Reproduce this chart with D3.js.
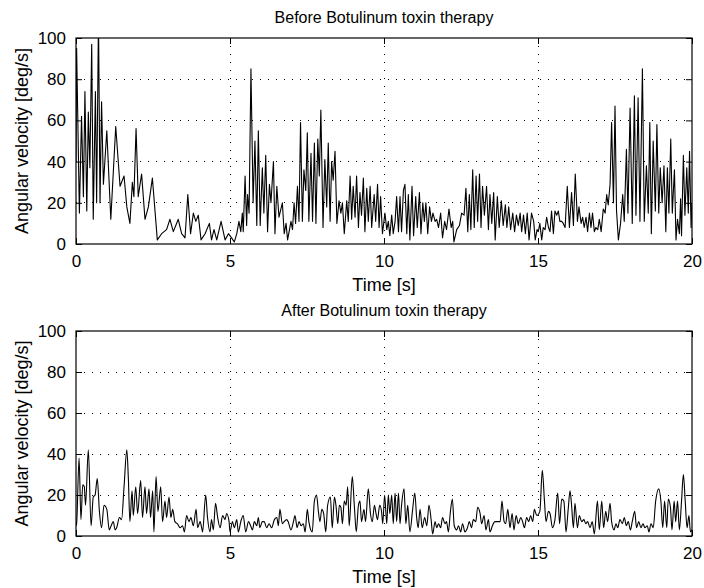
<!DOCTYPE html>
<html><head><meta charset="utf-8">
<script src="https://cdn.jsdelivr.net/npm/d3@7"></script>
<style>body{margin:0;background:#fff}svg{display:block}text{font-family:"Liberation Sans",Arial,sans-serif;fill:#000}</style>
</head><body>
<script>
const titles = ["Before Botulinum toxin therapy", "After Botulinum toxin therapy"];
const xLabel = "Time [s]";
const yLabel = "Angular velocity [deg/s]";
const xTicks = [0, 5, 10, 15, 20];
const yTicks = [0, 20, 40, 60, 80, 100];

const beforeTime = [0,0.02,0.11,0.18,0.24,0.29,0.35,0.40,0.45,0.51,0.56,0.63,0.67,0.73,0.78,0.83,0.89,1.0,1.13,1.29,1.43,1.56,1.65,1.75,1.83,1.88,1.95,2.02,2.13,2.24,2.35,2.48,2.64,2.78,2.94,3.05,3.16,3.32,3.43,3.54,3.63,3.72,3.81,3.89,3.97,4.06,4.19,4.33,4.40,4.48,4.57,4.71,4.84,4.95,
5.05,5.14,5.22,5.29,5.35,5.40,5.43,5.49,5.54,5.57,5.62,5.68,5.75,5.81,5.87,5.92,5.98,6.05,6.10,6.16,6.22,6.28,6.33,6.41,6.46,6.52,6.59,6.70,6.76,6.82,6.87,6.98,7.03,7.08,7.13,7.19,7.24,7.29,7.35,7.40,7.46,7.51,7.56,7.63,7.68,7.74,7.79,7.85,7.90,7.95,8.02,8.08,8.14,8.19,8.25,8.30,8.35,8.41,8.47,8.54,8.60,8.65,8.71,8.79,8.84,8.90,8.95,9.00,9.06,9.11,9.17,9.22,9.27,9.33,9.38,9.44,9.49,9.55,9.60,9.68,9.73,9.79,9.84,9.89,9.95,
10.03,10.09,10.14,10.19,10.25,10.30,10.36,10.41,10.47,10.52,10.57,10.63,10.68,10.74,10.79,10.84,10.91,10.96,11.03,11.08,11.15,11.20,11.26,11.31,11.36,11.42,11.48,11.54,11.59,11.66,11.71,11.77,11.84,11.90,11.97,12.03,12.11,12.18,12.23,12.27,12.36,12.45,12.52,12.60,12.66,12.72,12.77,12.82,12.88,12.93,12.99,13.04,13.10,13.15,13.20,13.26,13.33,13.39,13.44,13.50,13.56,13.61,13.68,13.74,13.81,13.87,13.94,13.99,14.05,14.11,14.18,14.24,14.30,14.36,14.42,14.47,14.53,14.59,14.65,14.71,14.79,14.86,14.91,14.97,
15.01,15.06,15.12,15.17,15.23,15.28,15.34,15.39,15.44,15.50,15.55,15.61,15.66,15.71,15.77,15.82,15.88,15.95,16.02,16.09,16.15,16.21,16.28,16.33,16.40,16.45,16.50,16.56,16.61,16.67,16.72,16.77,16.83,16.88,16.94,16.99,17.05,17.12,17.18,17.23,17.28,17.34,17.39,17.45,17.50,17.55,17.61,17.68,17.75,17.80,17.87,17.92,17.99,18.06,18.13,18.18,18.25,18.31,18.39,18.45,18.52,18.58,18.63,18.68,18.74,18.81,18.86,18.92,18.97,19.03,19.09,19.15,19.20,19.25,19.31,19.36,19.43,19.48,19.53,19.59,19.63,19.66,19.72,19.77,19.83,19.88,19.92,19.97,20];
const beforeVelocity = [40,95,15,62,23,74,16,64,37,97,12,74,20,110,20,69,29,55,12,57,28,33,18,10,30,23,56,23,34,12,18,32,2,5,7,12,6,12,5,3,24,5,15,11,14,2,5,10,2,7,2,11,2,5,
3,1,5,11,6,15,6,33,9,24,15,85,20,50,9,55,9,37,15,43,6,29,20,40,5,28,13,20,5,10,2,11,7,20,10,28,11,59,11,36,26,54,11,44,11,49,10,51,33,65,8,41,18,49,11,40,31,45,10,21,15,20,5,21,11,33,12,28,13,33,8,25,14,32,6,27,11,28,8,24,11,29,8,23,5,
15,7,11,4,14,5,11,23,6,23,6,26,29,5,24,2,28,4,23,8,25,5,20,11,20,5,18,11,15,11,12,8,15,3,11,7,17,8,11,1,7,9,15,14,27,6,24,7,36,8,33,11,34,8,28,14,28,7,24,10,25,2,23,8,21,9,19,8,18,7,15,6,14,9,15,6,14,5,15,2,15,11,2,7,
6,10,2,8,7,13,8,6,16,5,16,14,16,11,11,10,8,28,8,25,9,34,11,18,10,13,8,13,6,15,8,15,6,8,7,12,6,17,15,24,19,29,59,20,67,16,2,10,24,11,46,15,66,10,72,14,71,11,85,11,38,15,59,5,50,16,58,15,37,20,38,6,37,15,51,15,36,2,12,5,22,4,43,14,37,15,45,8,20];

const afterTime = [0,0.02,0.10,0.16,0.22,0.27,0.31,0.40,0.49,0.56,0.62,0.69,0.76,0.83,0.91,1.00,1.08,1.14,1.21,1.27,1.32,1.41,1.48,1.56,1.65,1.70,1.75,1.82,1.86,1.94,2.00,2.10,2.16,2.24,2.29,2.37,2.42,2.49,2.53,2.60,2.66,2.75,2.81,2.89,2.94,3.02,3.08,3.14,3.21,3.29,3.38,3.46,3.52,3.59,3.67,3.73,3.81,3.90,3.95,4.03,4.08,4.11,4.21,4.27,4.35,4.40,4.46,4.53,4.60,4.68,4.76,4.84,4.89,4.97,
5.00,5.08,5.14,5.22,5.27,5.35,5.43,5.51,5.60,5.67,5.73,5.79,5.87,5.92,5.97,6.05,6.11,6.19,6.27,6.35,6.44,6.52,6.57,6.62,6.70,6.76,6.84,6.89,6.98,7.06,7.11,7.18,7.24,7.31,7.38,7.44,7.51,7.56,7.62,7.67,7.74,7.81,7.87,7.92,7.98,8.04,8.11,8.17,8.26,8.32,8.39,8.44,8.50,8.55,8.60,8.65,8.71,8.77,8.82,8.87,8.97,9.04,9.10,9.17,9.22,9.27,9.35,9.40,9.49,9.56,9.62,9.69,9.74,9.79,9.86,9.92,
9.96,10.02,10.09,10.14,10.19,10.25,10.30,10.36,10.41,10.47,10.52,10.57,10.65,10.71,10.77,10.84,10.93,11.00,11.06,11.11,11.17,11.24,11.32,11.39,11.46,11.53,11.58,11.66,11.71,11.77,11.84,11.90,11.98,12.03,12.09,12.15,12.22,12.28,12.36,12.42,12.49,12.55,12.63,12.71,12.77,12.84,12.90,12.98,13.04,13.12,13.17,13.25,13.31,13.39,13.44,13.52,13.60,13.68,13.77,13.83,13.90,13.95,14.02,14.09,14.16,14.22,14.29,14.36,14.44,14.50,14.56,14.63,14.70,14.76,14.83,14.88,14.96,
15.06,15.14,15.21,15.26,15.34,15.39,15.47,15.55,15.64,15.70,15.77,15.84,15.91,15.98,16.04,16.09,16.15,16.20,16.28,16.34,16.42,16.49,16.55,16.61,16.69,16.76,16.83,16.93,16.99,17.07,17.13,17.20,17.26,17.34,17.39,17.47,17.53,17.59,17.66,17.74,17.80,17.87,17.93,18.00,18.06,18.14,18.20,18.27,18.34,18.41,18.47,18.55,18.60,18.67,18.74,18.82,18.92,18.99,19.05,19.11,19.18,19.23,19.30,19.35,19.42,19.47,19.53,19.59,19.66,19.72,19.78,19.84,19.90,19.95,20];
const afterVelocity = [5,6,38,8,25,24,15,42,5,19,20,28,12,4,15,13,3,5,7,3,4,9,8,24,42,28,7,22,10,24,11,27,9,24,11,23,9,22,2,29,12,24,7,17,9,19,9,13,7,6,4,5,2,10,7,9,5,13,4,7,4,2,20,9,2,8,3,16,9,4,10,8,11,7,
2,7,4,8,2,7,10,2,7,5,3,7,5,9,4,7,7,4,6,4,8,9,5,13,6,7,8,7,3,7,10,4,7,5,6,2,13,7,3,2,17,20,12,7,13,11,2,15,19,4,19,15,6,15,14,6,17,15,24,5,29,14,2,15,17,7,13,7,23,11,7,15,11,8,15,12,
6,20,6,20,11,20,6,21,7,21,6,15,23,6,15,2,13,21,9,4,13,4,9,5,15,8,1,7,4,6,4,9,6,7,2,11,18,5,3,5,2,6,2,4,7,4,8,7,14,11,6,10,3,8,2,5,7,7,7,17,7,6,13,4,11,3,10,6,9,7,4,9,7,10,7,13,10,
12,32,17,7,12,11,4,8,21,6,18,17,2,13,22,15,4,16,4,10,7,8,6,7,4,7,1,17,3,17,4,12,7,16,7,3,6,4,8,6,9,5,7,3,7,12,4,7,4,6,4,5,2,6,4,17,23,17,4,17,4,18,14,3,17,7,17,3,17,30,17,4,10,2,3];

const W = 704, H = 588;
const left = 76, right = 692;
const panels = [
  {top: 38, bottom: 244, t: beforeTime, v: beforeVelocity, title: titles[0], curve: d3.curveLinear},
  {top: 331, bottom: 536, t: afterTime, v: afterVelocity, title: titles[1], curve: d3.curveMonotoneX}
];

const svg = d3.select("body").append("svg").attr("width", W).attr("height", H);

panels.forEach((p, i) => {
  const x = d3.scaleLinear().domain([0, 20]).range([left, right]);
  const y = d3.scaleLinear().domain([0, 100]).range([p.bottom, p.top]);
  const g = svg.append("g");
  const h = p.bottom - p.top, w = right - left;

  // grid
  g.append("g").selectAll("line").data(xTicks.slice(1, -1)).join("line")
    .attr("x1", d => x(d)).attr("x2", d => x(d)).attr("y1", p.top).attr("y2", p.bottom)
    .attr("stroke", "#000").attr("stroke-width", 1).attr("stroke-dasharray", "1,7").attr("shape-rendering", "crispEdges");
  g.append("g").selectAll("line").data(yTicks.slice(1, -1)).join("line")
    .attr("y1", d => y(d)).attr("y2", d => y(d)).attr("x1", left).attr("x2", right)
    .attr("stroke", "#000").attr("stroke-width", 1).attr("stroke-dasharray", "1,7").attr("shape-rendering", "crispEdges");

  // data line
  const clipId = "clip" + i;
  svg.append("clipPath").attr("id", clipId).append("rect")
    .attr("x", left).attr("y", p.top).attr("width", w).attr("height", h);
  const data = p.t.map((t, k) => [t, p.v[k]]);
  g.append("path").datum(data)
    .attr("clip-path", `url(#${clipId})`)
    .attr("fill", "none").attr("stroke", "#000").attr("stroke-width", 1.1)
    .attr("stroke-linejoin", "round")
    .attr("d", d3.line().x(d => x(d[0])).y(d => y(d[1])).curve(p.curve));

  // axes with inward ticks
  const tk = 6;
  const ax = (gen, tr) => g.append("g").attr("transform", tr).call(gen)
    .call(s => s.select(".domain").remove())
    .call(s => s.selectAll("line").attr("stroke", "#000"))
    .call(s => s.selectAll("text").attr("font-size", 17).attr("font-family", '"Liberation Sans",Arial,sans-serif').attr("fill", "#000"));
  ax(d3.axisBottom(x).tickValues(xTicks).tickSize(-tk).tickPadding(11).tickFormat(d3.format("d")), `translate(0,${p.bottom})`);
  ax(d3.axisTop(x).tickValues(xTicks).tickSize(-tk).tickFormat(""), `translate(0,${p.top})`);
  ax(d3.axisLeft(y).tickValues(yTicks).tickSize(-tk).tickPadding(10).tickFormat(d3.format("d")), `translate(${left},0)`);
  ax(d3.axisRight(y).tickValues(yTicks).tickSize(-tk).tickFormat(""), `translate(${right},0)`);

  g.append("rect").attr("x", left).attr("y", p.top).attr("width", w).attr("height", h)
    .attr("fill", "none").attr("stroke", "#000").attr("stroke-width", 1.2);

  // labels
  svg.append("text").attr("x", (left + right) / 2).attr("y", p.top - 15)
    .attr("text-anchor", "middle").attr("font-size", 16).text(p.title);
  svg.append("text").attr("x", (left + right) / 2).attr("y", p.bottom + 47)
    .attr("text-anchor", "middle").attr("font-size", 18).text(xLabel);
  svg.append("text").attr("transform", `translate(28,${(p.top + p.bottom) / 2}) rotate(-90)`)
    .attr("text-anchor", "middle").attr("font-size", 18).text(yLabel);
});
</script>
</body></html>
